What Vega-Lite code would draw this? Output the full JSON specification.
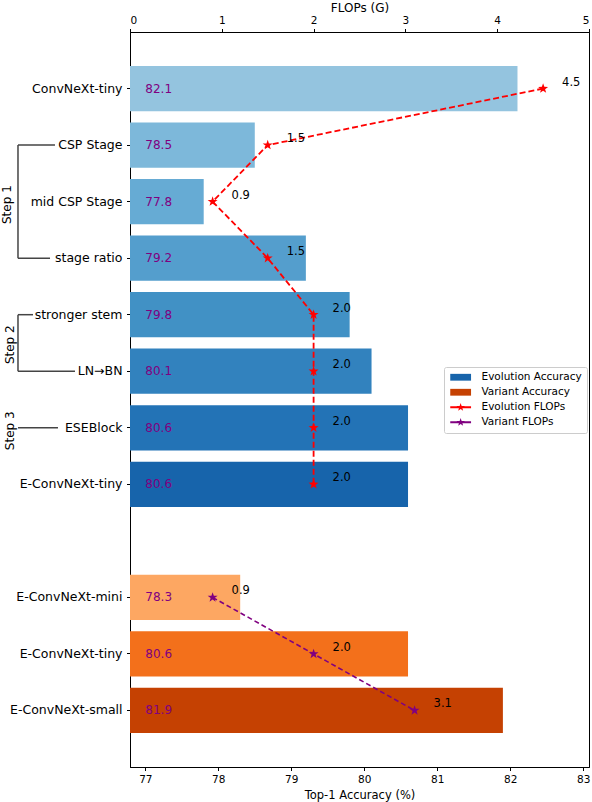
{
  "$schema": "https://vega.github.io/schema/vega-lite/v6.json",
  "width": 459,
  "height": 735,
  "autosize": {"type": "none"},
  "padding": {"left": 130, "top": 32, "right": 3, "bottom": 35},
  "config": {
    "font": "DejaVu Sans",
    "view": {"stroke": "black", "strokeWidth": 1},
    "axis": {
      "domainColor": "black", "tickColor": "black", "labelColor": "black", "titleColor": "black",
      "tickSize": 3.5, "labelPadding": 2, "labelFontSize": 10.5, "titleFontSize": 11.5,
      "titleFontWeight": "normal", "grid": false, "labelFont": "DejaVu Sans", "titleFont": "DejaVu Sans"
    }
  },
  "datasets": {
    "models": [
      {"id": "ConvNeXt-tiny", "acc": 82.1, "flops": 4.5, "series": "Evolution", "step": 1},
      {"id": "CSP Stage", "acc": 78.5, "flops": 1.5, "series": "Evolution", "step": 2},
      {"id": "mid CSP Stage", "acc": 77.8, "flops": 0.9, "series": "Evolution", "step": 3},
      {"id": "stage ratio", "acc": 79.2, "flops": 1.5, "series": "Evolution", "step": 4},
      {"id": "stronger stem", "acc": 79.8, "flops": 2.0, "series": "Evolution", "step": 5},
      {"id": "LN→BN", "acc": 80.1, "flops": 2.0, "series": "Evolution", "step": 6},
      {"id": "ESEBlock", "acc": 80.6, "flops": 2.0, "series": "Evolution", "step": 7},
      {"id": "E-ConvNeXt-tiny", "acc": 80.6, "flops": 2.0, "series": "Evolution", "step": 8},
      {"id": "E-ConvNeXt-mini", "acc": 78.3, "flops": 0.9, "series": "Variant", "step": 1},
      {"id": "E-ConvNeXt-tiny|v", "acc": 80.6, "flops": 2.0, "series": "Variant", "step": 2},
      {"id": "E-ConvNeXt-small", "acc": 81.9, "flops": 3.1, "series": "Variant", "step": 3}
    ],
    "bracketV": [
      {"x": 75.255, "id": "CSP Stage", "id2": "stage ratio"},
      {"x": 75.255, "id": "stronger stem", "id2": "LN→BN"}
    ],
    "bracketH": [
      {"x": 75.255, "x2": 75.762, "id": "CSP Stage"},
      {"x": 75.255, "x2": 75.694, "id": "stage ratio"},
      {"x": 75.255, "x2": 75.461, "id": "stronger stem"},
      {"x": 75.255, "x2": 76.036, "id": "LN→BN"},
      {"x": 75.255, "x2": 75.803, "id": "ESEBlock"}
    ],
    "steps13": [
      {"x": 75.104, "id": "mid CSP Stage", "label": "Step 1"},
      {"x": 75.145, "id": "ESEBlock", "label": "Step 3"}
    ],
    "step2": [
      {"x": 75.145, "id": "stronger stem", "label": "Step 2"}
    ],
    "legendRows": [
      {"series": "Evolution Accuracy"},
      {"series": "Variant Accuracy"},
      {"series": "Evolution FLOPs"},
      {"series": "Variant FLOPs"}
    ]
  },
  "encoding": {
    "y": {
      "field": "id", "type": "nominal",
      "scale": {
        "domain": ["ConvNeXt-tiny", "CSP Stage", "mid CSP Stage", "stage ratio", "stronger stem", "LN→BN", "ESEBlock", "E-ConvNeXt-tiny", "gap", "E-ConvNeXt-mini", "E-ConvNeXt-tiny|v", "E-ConvNeXt-small"],
        "paddingInner": 0.2, "paddingOuter": 0.6
      },
      "axis": {
        "values": ["ConvNeXt-tiny", "CSP Stage", "mid CSP Stage", "stage ratio", "stronger stem", "LN→BN", "ESEBlock", "E-ConvNeXt-tiny", "E-ConvNeXt-mini", "E-ConvNeXt-tiny|v", "E-ConvNeXt-small"],
        "labelExpr": "split(datum.label, '|')[0]",
        "title": null, "labelFontSize": 12.5, "labelPadding": 4.5
      }
    }
  },
  "layer": [
    {
      "layer": [
        {
          "data": {"name": "models"},
          "mark": {"type": "bar", "clip": true},
          "encoding": {
            "x": {"field": "acc", "type": "quantitative", "scale": {"domain": [76.79, 83.08], "nice": false, "zero": false},
                  "axis": {"values": [77, 78, 79, 80, 81, 82, 83], "format": "d", "title": "Top-1 Accuracy (%)", "labelPadding": 3.5, "titlePadding": 5}},
            "color": {"field": "id", "type": "nominal", "legend": null,
              "scale": {
                "domain": ["ConvNeXt-tiny", "CSP Stage", "mid CSP Stage", "stage ratio", "stronger stem", "LN→BN", "ESEBlock", "E-ConvNeXt-tiny", "E-ConvNeXt-mini", "E-ConvNeXt-tiny|v", "E-ConvNeXt-small"],
                "range": ["#94c4df", "#7db8da", "#66abd4", "#549ecd", "#4191c5", "#3282be", "#2373b6", "#1764ab", "#fda762", "#f3701b", "#c54102"]
              }}
          }
        },
        {
          "data": {"name": "models"},
          "mark": {"type": "text", "align": "left", "baseline": "middle", "color": "#800080", "fontSize": 12},
          "encoding": {
            "x": {"datum": 77, "type": "quantitative", "scale": {"domain": [76.79, 83.08], "nice": false, "zero": false},
                  "axis": {"values": [77, 78, 79, 80, 81, 82, 83], "format": "d", "title": "Top-1 Accuracy (%)", "labelPadding": 3.5, "titlePadding": 5}},
            "text": {"field": "acc", "type": "quantitative", "format": ".1f"}
          }
        },
        {
          "data": {"name": "bracketV"},
          "mark": {"type": "rule", "color": "#444444", "strokeWidth": 1.5},
          "encoding": {
            "x": {"field": "x", "type": "quantitative", "scale": {"domain": [76.79, 83.08], "nice": false, "zero": false},
                  "axis": {"values": [77, 78, 79, 80, 81, 82, 83], "format": "d", "title": "Top-1 Accuracy (%)", "labelPadding": 3.5, "titlePadding": 5}},
            "y2": {"field": "id2"}
          }
        },
        {
          "data": {"name": "bracketH"},
          "mark": {"type": "rule", "color": "#444444", "strokeWidth": 1.5},
          "encoding": {
            "x": {"field": "x", "type": "quantitative", "scale": {"domain": [76.79, 83.08], "nice": false, "zero": false},
                  "axis": {"values": [77, 78, 79, 80, 81, 82, 83], "format": "d", "title": "Top-1 Accuracy (%)", "labelPadding": 3.5, "titlePadding": 5}},
            "x2": {"field": "x2"}
          }
        },
        {
          "data": {"name": "steps13"},
          "mark": {"type": "text", "angle": 270, "align": "center", "baseline": "middle", "fontSize": 12, "color": "black", "dx": -3},
          "encoding": {
            "x": {"field": "x", "type": "quantitative", "scale": {"domain": [76.79, 83.08], "nice": false, "zero": false},
                  "axis": {"values": [77, 78, 79, 80, 81, 82, 83], "format": "d", "title": "Top-1 Accuracy (%)", "labelPadding": 3.5, "titlePadding": 5}},
            "text": {"field": "label"}
          }
        },
        {
          "data": {"name": "step2"},
          "mark": {"type": "text", "angle": 270, "align": "center", "baseline": "middle", "fontSize": 12, "color": "black", "dx": -30},
          "encoding": {
            "x": {"field": "x", "type": "quantitative", "scale": {"domain": [76.79, 83.08], "nice": false, "zero": false},
                  "axis": {"values": [77, 78, 79, 80, 81, 82, 83], "format": "d", "title": "Top-1 Accuracy (%)", "labelPadding": 3.5, "titlePadding": 5}},
            "text": {"field": "label"}
          }
        }
      ]
    },
    {
      "data": {"name": "models"},
      "layer": [
        {
          "transform": [{"filter": "datum.series == 'Evolution'"}],
          "mark": {"type": "line", "color": "red", "strokeDash": [6, 3], "strokeWidth": 1.8},
          "encoding": {
            "x": {"field": "flops", "type": "quantitative", "scale": {"domain": [0, 5], "nice": false},
                  "axis": {"orient": "top", "values": [0, 1, 2, 3, 4, 5], "format": "d", "title": "FLOPs (G)", "titleFontSize": 12, "labelPadding": 3, "titlePadding": 1}},
            "order": {"field": "step", "type": "quantitative"}
          }
        },
        {
          "transform": [{"filter": "datum.series == 'Variant'"}],
          "mark": {"type": "line", "color": "#800080", "strokeDash": [5, 3], "strokeWidth": 1.6},
          "encoding": {
            "x": {"field": "flops", "type": "quantitative", "scale": {"domain": [0, 5], "nice": false}},
            "order": {"field": "step", "type": "quantitative"}
          }
        },
        {
          "mark": {"type": "point", "filled": true, "opacity": 1, "size": 110,
                   "shape": "M0,-1L0.235,-0.324L0.951,-0.309L0.380,0.124L0.588,0.809L0,0.4L-0.588,0.809L-0.380,0.124L-0.951,-0.309L-0.235,-0.324Z"},
          "encoding": {
            "x": {"field": "flops", "type": "quantitative", "scale": {"domain": [0, 5], "nice": false}},
            "color": {"condition": {"test": "datum.series == 'Evolution'", "value": "red"}, "value": "#800080"}
          }
        },
        {
          "mark": {"type": "text", "align": "left", "baseline": "middle", "dx": 19, "dy": -6, "fontSize": 11.5, "color": "black"},
          "encoding": {
            "x": {"field": "flops", "type": "quantitative", "scale": {"domain": [0, 5], "nice": false}},
            "text": {"field": "flops", "type": "quantitative", "format": ".1f"}
          }
        }
      ]
    },
    {
      "data": {"name": "legendRows"},
      "transform": [{"filter": "datum.series == 'none'"}],
      "mark": {"type": "point", "filled": true, "size": 64, "opacity": 1},
      "encoding": {
        "color": {"field": "series", "type": "nominal",
          "scale": {"domain": ["Evolution Accuracy", "Variant Accuracy", "Evolution FLOPs", "Variant FLOPs"], "range": ["#1764ab", "#c54102", "red", "#800080"]},
          "legend": {"orient": "none", "legendX": 314, "legendY": 335, "title": null, "labelFontSize": 10.5, "labelColor": "black",
                     "strokeColor": "#cccccc", "fillColor": "white", "padding": 5, "cornerRadius": 2, "rowPadding": 4, "labelOffset": 22,
                     "symbolStrokeWidth": 0, "symbolSize": 64, "symbolOpacity": 1}},
        "shape": {"field": "series", "type": "nominal",
          "scale": {"domain": ["Evolution Accuracy", "Variant Accuracy", "Evolution FLOPs", "Variant FLOPs"],
                    "range": [
                      "M-1,-0.85H4.2V0.85H-1Z",
                      "M-1,-0.85H4.2V0.85H-1Z",
                      "M-1,-0.25H4.2V0.25H-1Z M1.6,-1.05L1.847,-0.34L2.599,-0.324L1.999,0.13L2.217,0.849L1.6,0.42L0.983,0.849L1.201,0.13L0.601,-0.324L1.353,-0.34Z",
                      "M-1,-0.25H4.2V0.25H-1Z M1.6,-1.05L1.847,-0.34L2.599,-0.324L1.999,0.13L2.217,0.849L1.6,0.42L0.983,0.849L1.201,0.13L0.601,-0.324L1.353,-0.34Z"
                    ]},
          "legend": {"orient": "none", "legendX": 314, "legendY": 335, "title": null, "labelFontSize": 10.5, "labelColor": "black",
                     "strokeColor": "#cccccc", "fillColor": "white", "padding": 5, "cornerRadius": 2, "rowPadding": 4, "labelOffset": 22,
                     "symbolStrokeWidth": 0, "symbolSize": 64, "symbolOpacity": 1}}
      }
    }
  ],
  "resolve": {"scale": {"x": "independent", "color": "independent", "shape": "independent"}}
}
